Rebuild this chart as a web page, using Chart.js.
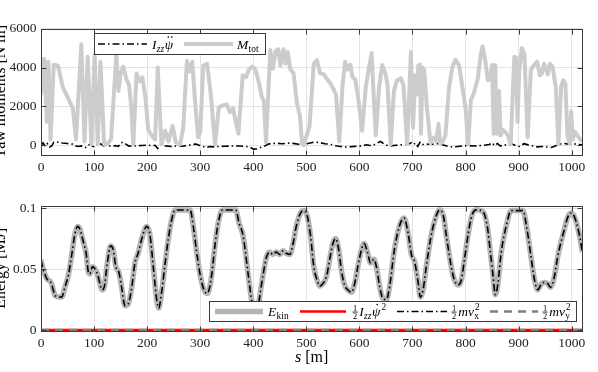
<!DOCTYPE html>
<html>
<head>
<meta charset="utf-8">
<script src="https://cdn.jsdelivr.net/npm/chart.js@4.4.1/dist/chart.umd.min.js"></script>
<style>
  html, body { margin: 0; padding: 0; background: #fff; }
  #wrap { position: relative; width: 598px; height: 372px; overflow: hidden; }
  canvas { position: absolute; left: 0; }
  #top { top: 0; }
  #bot { top: 185px; }
</style>
</head>
<body>
<div id="wrap">
  <canvas id="top" width="598" height="185"></canvas>
  <canvas id="bot" width="598" height="187"></canvas>
</div>
<script>
// ---- data ----
const xTicks = [0, 100, 200, 300, 400, 500, 600, 700, 800, 900, 1000];
const yTicksTop = [0, 2000, 4000, 6000];
const yTicksBot = [0, 0.05, 0.1];

// total yaw moment M_tot [N m]
const sMtot = [0, 6, 11, 14, 18, 24, 32, 41, 51, 60, 66, 76, 82, 88, 95, 101, 107, 112, 119, 126, 132, 142, 146, 150, 155,
  161, 166, 170, 174, 180, 186, 191, 197, 202, 210, 215, 220, 227, 234, 240, 248, 254, 262, 268, 275, 280, 285, 290, 296,
  300, 306, 313, 320, 328, 335, 342, 350, 356, 362, 369, 372, 380, 386, 392, 398, 404, 410, 416, 420, 424, 432, 437, 442,
  447, 451, 457, 461, 465, 470, 476, 482, 488, 492, 495, 506, 514, 520, 526, 533, 539, 545, 551, 556, 562, 568, 573, 578,
  583, 587, 592, 598, 605, 612, 618, 623, 627, 631, 637, 643, 649, 653, 659, 665, 671, 678, 683, 690, 697, 701, 705, 708,
  711, 714, 716, 719, 722, 727, 734, 740, 745, 749, 752, 756, 762, 769, 775, 781, 788, 794, 800, 805, 810, 816, 823, 829,
  832, 837, 842, 846, 850, 853, 856, 859, 863, 866, 870, 876, 880, 885, 892, 895, 898, 901, 906, 911, 917, 923, 929, 935,
  940, 944, 948, 955, 959, 964, 970, 975, 980, 984, 988, 992, 996, 999, 1002, 1006, 1011, 1016, 1020];
const mTot = [2600, 4450, 1200, 4300, 300, 4150, 4100, 3000, 2430, 1900, 300, 5200, 200, 4550, 50, 4650, 100, 4300, 50, 100,
  300, 4700, 2800, 3700, 4050, 3400, 3100, 2000, 50, 3700, 3300, 3500, 2400, 800, 450, 300, 4000, 50, 750, 200, 1000, 150,
  50, 900, 4350, 3800, 4300, 2400, 400, 700, 4100, 4200, 2600, 50, 1950, 2050, 2100, 1700, 1900, 950, 600, 3600, 3500,
  3900, 4050, 3900, 3300, 2500, 2300, 150, 4900, 3950, 4850, 4950, 4100, 4950, 4200, 4800, 3900, 3700, 2200, 1500, 50, 0,
  1000, 4200, 4380, 3700, 3650, 3400, 3200, 2900, 2600, 200, 3000, 4300, 3900, 4150, 3500, 3400, 2400, 750, 3000, 4000,
  4750, 2500, 500, 3000, 4130, 3700, 3100, 50, 2800, 3350, 3450, 3100, 50, 4800, 900, 3600, 2600, 4100, 4150, 600, 4000,
  3900, 2000, 100, 400, 200, 1100, 100, 150, 500, 3000, 4000, 4400, 4100, 3000, 1900, 50, 2300, 2700, 3440, 4730, 5100,
  4400, 3350, 3400, 4130, 600, 4130, 600, 2800, 500, 800, 650, 500, 50, 4560, 4500, 1200, 3800, 5000, 4700, 400, 3870,
  4130, 4300, 3600, 3700, 4200, 3650, 4200, 4050, 3000, 50, 3000, 3350, 3200, 500, 100, 1750, 300, 700, 500, 300, 200];

// I_zz * psi_ddot [N m]
const sIzz = [0, 4, 8, 12, 16, 20, 24, 30, 40, 50, 60, 65, 70, 76, 80, 84, 88, 93, 97, 101, 106, 110, 114, 118, 124, 132,
  140, 146, 150, 155, 160, 165, 172, 180, 190, 200, 210, 215, 220, 226, 235, 245, 255, 265, 275, 285, 292, 298, 305, 312,
  318, 326, 335, 345, 355, 365, 375, 385, 395, 400, 406, 412, 420, 428, 435, 445, 455, 465, 475, 485, 495, 505, 515, 525,
  535, 545, 555, 565, 575, 585, 595, 605, 613, 620, 630, 636, 640, 646, 652, 658, 665, 675, 685, 692, 698, 702, 706, 710,
  714, 718, 724, 730, 740, 750, 758, 765, 775, 785, 795, 805, 815, 825, 835, 845, 850, 855, 860, 866, 872, 880, 888, 895,
  902, 910, 918, 926, 935, 945, 955, 962, 970, 978, 985, 995, 1005, 1013, 1020];
const izzPsiDdot = [0, 120, -60, 80, -90, -40, 150, 170, 120, 90, 60, -20, -60, -30, -60, -120, -20, 60, -50, -80, 60, 120,
  40, -30, 20, -60, -20, -60, 120, 160, 60, -30, -60, -20, -10, 10, -20, 0, -170, 10, -30, -60, -40, -50, -20, 40, 60, 0,
  -60, -120, -60, -80, -60, -50, -40, -40, -40, -50, -120, -200, -190, -130, -60, 60, 100, 100, 80, 110, 100, 50, 40, 100,
  170, 140, 80, 50, -20, -60, -90, -70, -50, -40, 30, -10, 40, 150, 200, 80, 0, -40, -10, 20, 40, 60, 130, 40, 120, -60,
  150, 20, 80, 50, 60, 90, 20, -40, -90, -60, -30, -10, -40, -20, 0, 40, 130, -20, 90, -40, 40, -20, 60, -20, -60, 80, 20,
  -30, -80, -60, -90, -110, -20, 60, 100, 60, 70, 40, 30];

// kinetic energy [MJ]
const sEkin = [0, 4, 8, 11, 17, 20, 23, 27, 39, 45, 52, 58, 64, 69, 73, 80, 85, 89, 92, 97, 102, 107, 111, 115, 119, 125,
  131, 136, 141, 147, 152, 158, 164, 171, 177, 183, 190, 199, 205, 212, 218, 222, 227, 234, 240, 246, 253, 281, 287, 293,
  300, 307, 313, 320, 328, 334, 342, 367, 373, 381, 390, 396, 403, 408, 412, 418, 425, 431, 437, 443, 450, 456, 462, 469,
  475, 481, 489, 496, 502, 508, 514, 521, 525, 531, 538, 544, 550, 555, 561, 566, 572, 578, 585, 591, 597, 604, 609, 615,
  621, 627, 632, 638, 644, 651, 657, 666, 676, 684, 692, 698, 704, 710, 715, 720, 726, 735, 745, 751, 758, 764, 773, 779,
  786, 792, 798, 805, 812, 820, 833, 841, 847, 852, 856, 861, 867, 877, 886, 908, 916, 924, 930, 936, 943, 949, 955, 960,
  967, 974, 984, 993, 999, 1006, 1015, 1020];
const eKin = [0.0575, 0.050, 0.045, 0.042, 0.040, 0.038, 0.033, 0.028, 0.027, 0.035, 0.046, 0.062, 0.079, 0.085, 0.083,
  0.072, 0.063, 0.048, 0.046, 0.052, 0.050, 0.045, 0.038, 0.033, 0.035, 0.055, 0.069, 0.066, 0.052, 0.047, 0.035, 0.020,
  0.021, 0.035, 0.055, 0.063, 0.075, 0.085, 0.079, 0.050, 0.025, 0.018, 0.030, 0.055, 0.075, 0.090, 0.0985, 0.0985, 0.085,
  0.065, 0.045, 0.033, 0.030, 0.040, 0.070, 0.088, 0.0985, 0.0985, 0.088, 0.077, 0.047, 0.027, 0.013, 0.014, 0.027, 0.044,
  0.060, 0.064, 0.062, 0.064, 0.062, 0.065, 0.063, 0.062, 0.071, 0.085, 0.096, 0.098, 0.093, 0.077, 0.052, 0.040, 0.036,
  0.038, 0.044, 0.058, 0.071, 0.075, 0.066, 0.049, 0.037, 0.033, 0.031, 0.038, 0.052, 0.066, 0.071, 0.064, 0.055, 0.058,
  0.052, 0.036, 0.026, 0.025, 0.036, 0.066, 0.086, 0.092, 0.079, 0.062, 0.056, 0.041, 0.027, 0.033, 0.052, 0.077, 0.094,
  0.0986, 0.094, 0.077, 0.052, 0.041, 0.037, 0.041, 0.058, 0.079, 0.094, 0.0986, 0.097, 0.085, 0.063, 0.044, 0.029, 0.038,
  0.063, 0.086, 0.098, 0.098, 0.082, 0.058, 0.041, 0.033, 0.038, 0.039, 0.038, 0.035, 0.043, 0.061, 0.079, 0.093, 0.096,
  0.092, 0.077, 0.064];

// 1/2 m vx^2 lies on top of E_kin in the picture
const sMvx = sEkin;
const halfMvx2 = eKin;
// 1/2 I_zz psi_dot^2 and 1/2 m vy^2 stay at zero
const sSmall = [0, 250, 500, 750, 1020];
const halfIzzPsiDot2 = [0, 0, 0, 0, 0];
const halfMvy2 = [0, 0, 0, 0, 0];

// ---- drawing helpers ----
const SERIF = '"Liberation Serif", "DejaVu Serif", serif';
const pts = (xs, ys) => xs.map((x, i) => ({ x: x, y: ys[i] }));
const DASHDOT = [7, 3, 1.5, 3];
const DASHED = [8, 6];

function drawMath(ctx, x, y, parts, size) {
  ctx.textBaseline = 'alphabetic';
  ctx.textAlign = 'left';
  ctx.fillStyle = '#000';
  for (const p of parts) {
    if (p.frac) {
      const fs = size * 0.62;
      ctx.font = fs + 'px ' + SERIF;
      const w = ctx.measureText('2').width;
      const ax = y - size * 0.3;
      ctx.textAlign = 'center';
      ctx.fillText('1', x + w / 2 + 1, ax - 1.2);
      ctx.fillText('2', x + w / 2 + 1, ax + fs * 0.72 + 1);
      ctx.fillRect(x + 0.5, ax - 0.4, w + 1, 0.8);
      ctx.textAlign = 'left';
      x += w + 3;
      continue;
    }
    ctx.font = (p.i ? 'italic ' : '') + size + 'px ' + SERIF;
    const w = ctx.measureText(p.t).width;
    ctx.fillText(p.t, x, y);
    if (p.dots) {
      const cx = x + w / 2 + size * 0.08;
      const dy = y - size * 0.86;
      const offs = p.dots === 2 ? [-size * 0.13, size * 0.13] : [0];
      offs.forEach(o => { ctx.beginPath(); ctx.arc(cx + o, dy, 0.85, 0, Math.PI * 2); ctx.fill(); });
    }
    let adv = w;
    if (p.sub || p.sup) {
      const fs = size * 0.7;
      let sw = 0;
      if (p.sub) {
        ctx.font = (p.subI ? 'italic ' : '') + fs + 'px ' + SERIF;
        ctx.fillText(p.sub, x + w + 0.3, y + size * 0.22);
        sw = ctx.measureText(p.sub).width;
      }
      if (p.sup) {
        ctx.font = fs + 'px ' + SERIF;
        ctx.fillText(p.sup, x + w + 1, y - size * 0.42);
        sw = Math.max(sw, ctx.measureText(p.sup).width + 0.7);
      }
      adv += sw + 1;
    }
    x += adv + (p.gap || 0);
  }
  return x;
}

// frame with inward ticks, legend box and axis titles
const decor = {
  id: 'decor',
  afterDatasetsDraw(chart) {
    const { ctx, chartArea: a, scales } = chart;
    const L = Math.round(a.left) + 0.5, R = Math.round(a.right) + 0.5;
    const T = Math.round(a.top) + 0.5, B = Math.round(a.bottom) + 0.5;
    ctx.save();
    ctx.strokeStyle = '#3a3a3a';
    ctx.lineWidth = 1;
    ctx.setLineDash([]);
    ctx.strokeRect(L, T, R - L, B - T);
    ctx.beginPath();
    scales.x.ticks.forEach(t => {
      const x = Math.round(scales.x.getPixelForValue(t.value)) + 0.5;
      ctx.moveTo(x, T); ctx.lineTo(x, T + 5);
      ctx.moveTo(x, B); ctx.lineTo(x, B - 5);
    });
    scales.y.ticks.forEach(t => {
      const y = Math.round(scales.y.getPixelForValue(t.value)) + 0.5;
      ctx.moveTo(L, y); ctx.lineTo(L + 5, y);
      ctx.moveTo(R, y); ctx.lineTo(R - 5, y);
    });
    ctx.stroke();
    ctx.restore();
  },
  afterDraw(chart, args, o) {
    const ctx = chart.ctx;
    const a = chart.chartArea;
    ctx.save();
    // legend
    const b = o.box;
    ctx.fillStyle = '#fff';
    ctx.fillRect(b[0], b[1], b[2] - b[0], b[3] - b[1]);
    ctx.strokeStyle = '#3a3a3a';
    ctx.lineWidth = 1;
    ctx.strokeRect(b[0], b[1], b[2] - b[0], b[3] - b[1]);
    o.items.forEach(it => {
      ctx.save();
      ctx.strokeStyle = it.color;
      ctx.lineWidth = it.width;
      ctx.setLineDash(it.dash || []);
      ctx.beginPath();
      ctx.moveTo(it.x0, it.y);
      ctx.lineTo(it.x1, it.y);
      ctx.stroke();
      ctx.restore();
      drawMath(ctx, it.tx, it.y + 4.6, it.parts, 13.5);
    });
    // y title (partly cut at the left edge)
    ctx.fillStyle = '#000';
    ctx.font = '16px ' + SERIF;
    ctx.textAlign = 'center';
    ctx.textBaseline = 'alphabetic';
    ctx.translate(o.yTitleX, (a.top + a.bottom) / 2);
    ctx.rotate(-Math.PI / 2);
    ctx.fillText(o.yTitle, 0, 0);
    ctx.restore();
    if (o.xTitle) {
      ctx.save();
      ctx.fillStyle = '#000';
      ctx.textBaseline = 'alphabetic';
      ctx.textAlign = 'left';
      ctx.font = '16px ' + SERIF;
      const w1 = ctx.measureText(' [m]').width;
      ctx.font = 'italic 16px ' + SERIF;
      const w0 = ctx.measureText('s').width;
      const x0 = (a.left + a.right) / 2 - (w0 + w1) / 2;
      ctx.fillText('s', x0, o.xTitleY);
      ctx.font = '16px ' + SERIF;
      ctx.fillText(' [m]', x0 + w0, o.xTitleY);
      ctx.restore();
    }
  }
};

function baseOptions(yMin, yMax, yTicks, topPad, xHeight, extra) {
  return {
    responsive: false,
    animation: false,
    devicePixelRatio: 1,
    layout: { padding: { left: 0, right: 15.7, top: topPad, bottom: 0 } },
    elements: { point: { radius: 0 } },
    plugins: { legend: { display: false }, tooltip: { enabled: false }, decor: extra },
    scales: {
      x: {
        type: 'linear', min: 0, max: 1020,
        afterBuildTicks: s => { s.ticks = xTicks.map(v => ({ value: v })); },
        afterFit: s => { s.height = xHeight; },
        grid: { color: '#e2e2e2', drawTicks: false },
        border: { display: false },
        ticks: { padding: 4, maxRotation: 0, color: '#222', font: { family: SERIF, size: 13.5 }, callback: v => String(v) }
      },
      y: {
        min: yMin, max: yMax,
        afterBuildTicks: s => { s.ticks = yTicks.map(v => ({ value: v })); },
        afterFit: s => { s.width = 41; },
        grid: { color: '#e2e2e2', drawTicks: false },
        border: { display: false },
        ticks: { padding: 4.5, color: '#222', font: { family: SERIF, size: 13.5 }, callback: v => String(v) }
      }
    }
  };
}

new Chart(document.getElementById('top'), {
  type: 'line',
  data: {
    datasets: [
      { data: pts(sIzz, izzPsiDdot), borderColor: '#000', borderWidth: 1.6, borderDash: DASHDOT, order: 1 },
      { data: pts(sMtot, mTot), borderColor: '#cccccc', borderWidth: 4, order: 0, borderJoinStyle: 'round' }
    ]
  },
  options: baseOptions(-500, 6000, yTicksTop, 28.7, 30, {
    box: [94.5, 33.5, 265.5, 54.5],
    items: [
      { x0: 98, x1: 147, y: 44, color: '#000', width: 1.6, dash: DASHDOT, tx: 152,
        parts: [{ t: 'I', i: 1, sub: 'zz', subI: 1 }, { t: '\u03C8', i: 1, dots: 2 }] },
      { x0: 184, x1: 233, y: 44, color: '#cccccc', width: 4, tx: 237,
        parts: [{ t: 'M', i: 1, sub: 'tot' }] }
    ],
    yTitle: 'Yaw moments [N m]', yTitleX: 5
  }),
  plugins: [decor]
});

new Chart(document.getElementById('bot'), {
  type: 'line',
  data: {
    datasets: [
      { data: pts(sEkin, eKin), borderColor: '#b4b4b4', borderWidth: 5.5, cubicInterpolationMode: 'monotone', order: 3 },
      { data: pts(sSmall, halfIzzPsiDot2), borderColor: '#ff0000', borderWidth: 2.5, order: 2 },
      { data: pts(sMvx, halfMvx2), borderColor: '#000', borderWidth: 1.6, borderDash: DASHDOT, cubicInterpolationMode: 'monotone', order: 1 },
      { data: pts(sSmall, halfMvy2), borderColor: '#808080', borderWidth: 2.5, borderDash: DASHED, order: 0 }
    ]
  },
  options: baseOptions(-0.0008, 0.102, yTicksBot, 20.7, 41, {
    box: [209.5, 116.5, 576.5, 136.5],
    items: [
      { x0: 215, x1: 263, y: 126.5, color: '#b4b4b4', width: 5.5, tx: 268,
        parts: [{ t: 'E', i: 1, sub: 'kin' }] },
      { x0: 300, x1: 346, y: 126.5, color: '#ff0000', width: 2.5, tx: 352,
        parts: [{ frac: 1 }, { t: 'I', i: 1, sub: 'zz', subI: 1 }, { t: '\u03C8', i: 1, dots: 1, sup: '2' }] },
      { x0: 397, x1: 447, y: 126.5, color: '#000', width: 1.6, dash: DASHDOT, tx: 451,
        parts: [{ frac: 1 }, { t: 'm', i: 1 }, { t: 'v', i: 1, sub: 'x', sup: '2' }] },
      { x0: 490, x1: 538, y: 126.5, color: '#808080', width: 2.5, dash: DASHED, tx: 542,
        parts: [{ frac: 1 }, { t: 'm', i: 1 }, { t: 'v', i: 1, sub: 'y', sup: '2' }] }
    ],
    yTitle: 'Energy [MJ]', yTitleX: 5,
    xTitle: true, xTitleY: 177
  }),
  plugins: [decor]
});
</script>
</body>
</html>
